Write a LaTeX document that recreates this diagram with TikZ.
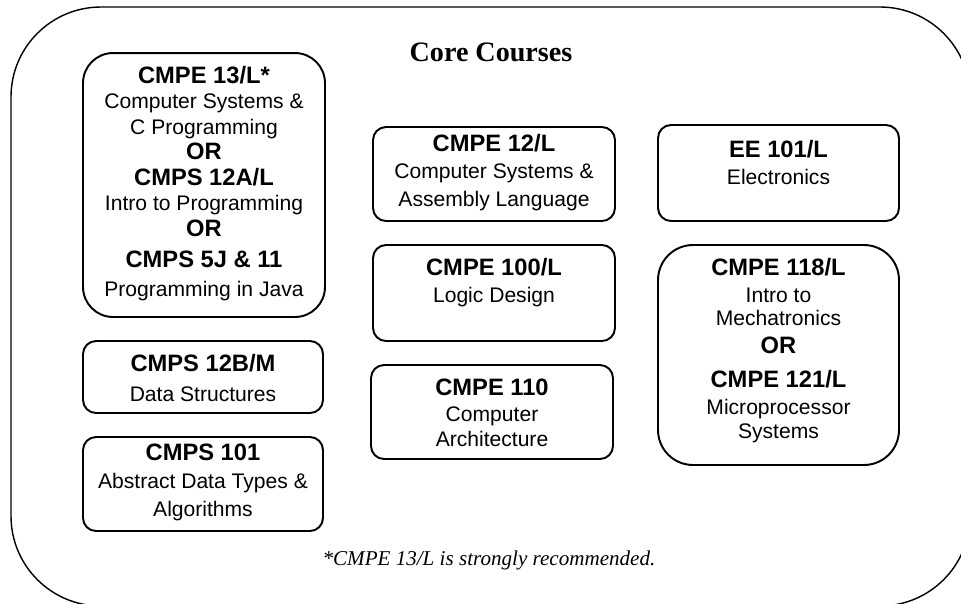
\documentclass[tikz,border=0pt]{standalone}
\usepackage{fontspec}
\setmainfont{Liberation Serif}
\setsansfont{Liberation Sans}
\tikzset{
  course/.style={draw, line width=1.1pt, rounded corners=0.26cm, minimum width=4.84cm},
  coursetext/.style={font=\sffamily\fontsize{12}{14.5}\selectfont, align=center, inner sep=0pt},
}
\newcommand{\cnum}[1]{{\bfseries\fontsize{13.5}{14.5}\selectfont #1}}
\begin{document}
\begin{tikzpicture}[x=0.02cm,y=-0.02cm]
	\useasboundingbox (0,0) rectangle (961,603);
	% outer frame
	\draw [line width=0.8pt, rounded corners=1.8cm] (11,7) rectangle (970,606);
	\node [font=\bfseries\fontsize{16}{18}\selectfont, anchor=base] (title) at (491,61) {Core Courses};
	% left column
	\node [course, rounded corners=0.6cm, minimum height=5.28cm] (cmpe13) at (204,185) {};
	\node [coursetext] (cmpe13txt) at (204,183.5) {\cnum{CMPE 13/L*}\\ Computer Systems \&\\ C Programming\\ \cnum{OR}\\ \cnum{CMPS 12A/L}\\ Intro to Programming\\ \cnum{OR}\\[3.5pt] \cnum{CMPS 5J \& 11}\\[2pt] Programming in Java};
	\node [course, minimum width=4.8cm, minimum height=1.44cm] (cmps12b) at (203,377) {};
	\node [coursetext] (cmps12btxt) at (203,378) {\cnum{CMPS 12B/M}\\[2.5pt] Data Structures};
	\node [course, minimum width=4.8cm, minimum height=1.88cm] (cmps101) at (203,484) {};
	\node [coursetext] (cmps101txt) at (203,482.5) {\cnum{CMPS 101}\\[1pt] Abstract Data Types \&\\[1.5pt] Algorithms};
	% middle column
	\node [course, minimum height=1.88cm] (cmpe12) at (494,174) {};
	\node [coursetext] (cmpe12txt) at (494,172.5) {\cnum{CMPE 12/L}\\[1pt] Computer Systems \&\\[1.5pt] Assembly Language};
	\node [course, minimum height=1.92cm] (cmpe100) at (494,293) {};
	\node [coursetext] (cmpe100txt) at (494,282.5) {\cnum{CMPE 100/L}\\[1pt] Logic Design};
	\node [course, minimum height=1.88cm] (cmpe110) at (492,412) {};
	\node [coursetext] (cmpe110txt) at (492,413) {\cnum{CMPE 110}\\ Computer\\ Architecture};
	% right column
	\node [course, minimum width=4.82cm, minimum height=1.92cm] (ee101) at (778.5,173) {};
	\node [coursetext] (ee101txt) at (778.5,162.5) {\cnum{EE 101/L}\\[1pt] Electronics};
	\node [course, rounded corners=0.7cm, minimum width=4.82cm, minimum height=4.4cm] (cmpe118) at (778.5,355) {};
	\node [coursetext] (cmpe118txt) at (778.5,350.5) {\cnum{CMPE 118/L}\\[1pt] Intro to\\[-1.5pt] Mechatronics\\[1.5pt] \cnum{OR}\\[5pt] \cnum{CMPE 121/L}\\[1pt] Microprocessor\\[-1pt] Systems};
	% footnote
	\node [font=\itshape\fontsize{12}{14}\selectfont, anchor=base] (note) at (489,565) {*CMPE 13/L is strongly recommended.};
\end{tikzpicture}
\end{document}
